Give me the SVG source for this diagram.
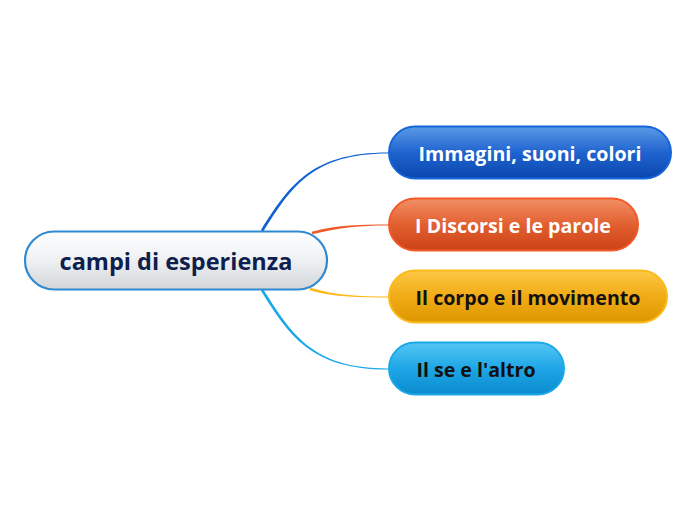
<svg xmlns="http://www.w3.org/2000/svg" width="696" height="520" viewBox="0 0 696 520">
<defs>
<linearGradient id="gC" x1="0" y1="0" x2="0" y2="1">
<stop offset="0" stop-color="#ffffff"/><stop offset="0.5" stop-color="#eef0f2"/><stop offset="1" stop-color="#d2d6d9"/>
</linearGradient>
<linearGradient id="gB" x1="0" y1="0" x2="0" y2="1">
<stop offset="0" stop-color="#5c9ae6"/><stop offset="0.5" stop-color="#1f63cf"/><stop offset="1" stop-color="#0a47ae"/>
</linearGradient>
<linearGradient id="gR" x1="0" y1="0" x2="0" y2="1">
<stop offset="0" stop-color="#f28f66"/><stop offset="0.5" stop-color="#e2602f"/><stop offset="1" stop-color="#cc4218"/>
</linearGradient>
<linearGradient id="gY" x1="0" y1="0" x2="0" y2="1">
<stop offset="0" stop-color="#fdc845"/><stop offset="0.5" stop-color="#f0ab16"/><stop offset="1" stop-color="#dc9700"/>
</linearGradient>
<linearGradient id="gK" x1="0" y1="0" x2="0" y2="1">
<stop offset="0" stop-color="#55c6f4"/><stop offset="0.5" stop-color="#1ea6e6"/><stop offset="1" stop-color="#0a8bcd"/>
</linearGradient>
</defs>
<style>
text{font-family:"Open Sans","Noto Sans","Liberation Sans",sans-serif;font-weight:bold;text-anchor:middle}
.c{font-size:23.5px;fill:#0e1e4e}
.s{font-size:19.6px}
.w{fill:#ffffff}
.k{fill:#111111}
</style>
<rect width="696" height="520" fill="#ffffff"/>
<g id="connectors">
<path d="M260.9 230.2 C289 186 310.5 152.5 388 152.5 L388 153.5 C311.5 153.5 291 188 263.1 231.8 Z" fill="#1262d0"/>
<path d="M311.7 231.7 C340 224.6 360 224.5 388 224.5 L388 225.5 C360 225.5 340 227.4 312.3 234.3 Z" fill="#f05a28"/>
<path d="M310.3 287.7 C336 295.5 360 296.5 388 296.5 L388 297.5 C360 297.5 336 297.5 309.7 290.3 Z" fill="#fbb817"/>
<path d="M263.1 289.3 C291 333 311.5 368.5 388 368.5 L388 369.5 C310.5 369.5 289 335 260.9 290.7 Z" fill="#1aa8e8"/>
</g>
<g id="central">
<rect x="25" y="231.5" width="302" height="58" rx="29" fill="url(#gC)" stroke="#2f8ad2" stroke-width="2.2"/>
<text class="c" x="176" y="269.5">campi di esperienza</text>
</g>
<g id="n1">
<rect x="389" y="126.5" width="282" height="52" rx="26" fill="url(#gB)" stroke="#1466da" stroke-width="2"/>
<text class="s w" x="530" y="160.5">Immagini, suoni, colori</text>
</g>
<g id="n2">
<rect x="389" y="198.5" width="249" height="52" rx="26" fill="url(#gR)" stroke="#f25a28" stroke-width="2"/>
<text class="s w" x="513" y="232.5">I Discorsi e le parole</text>
</g>
<g id="n3">
<rect x="389" y="270.5" width="278" height="52" rx="26" fill="url(#gY)" stroke="#fcba1a" stroke-width="2"/>
<text class="s k" x="528" y="304.5">Il corpo e il movimento</text>
</g>
<g id="n4">
<rect x="389" y="342.5" width="175" height="52" rx="26" fill="url(#gK)" stroke="#1aa8e8" stroke-width="2"/>
<text class="s k" x="476" y="376.5">Il se e l'altro</text>
</g>
</svg>
